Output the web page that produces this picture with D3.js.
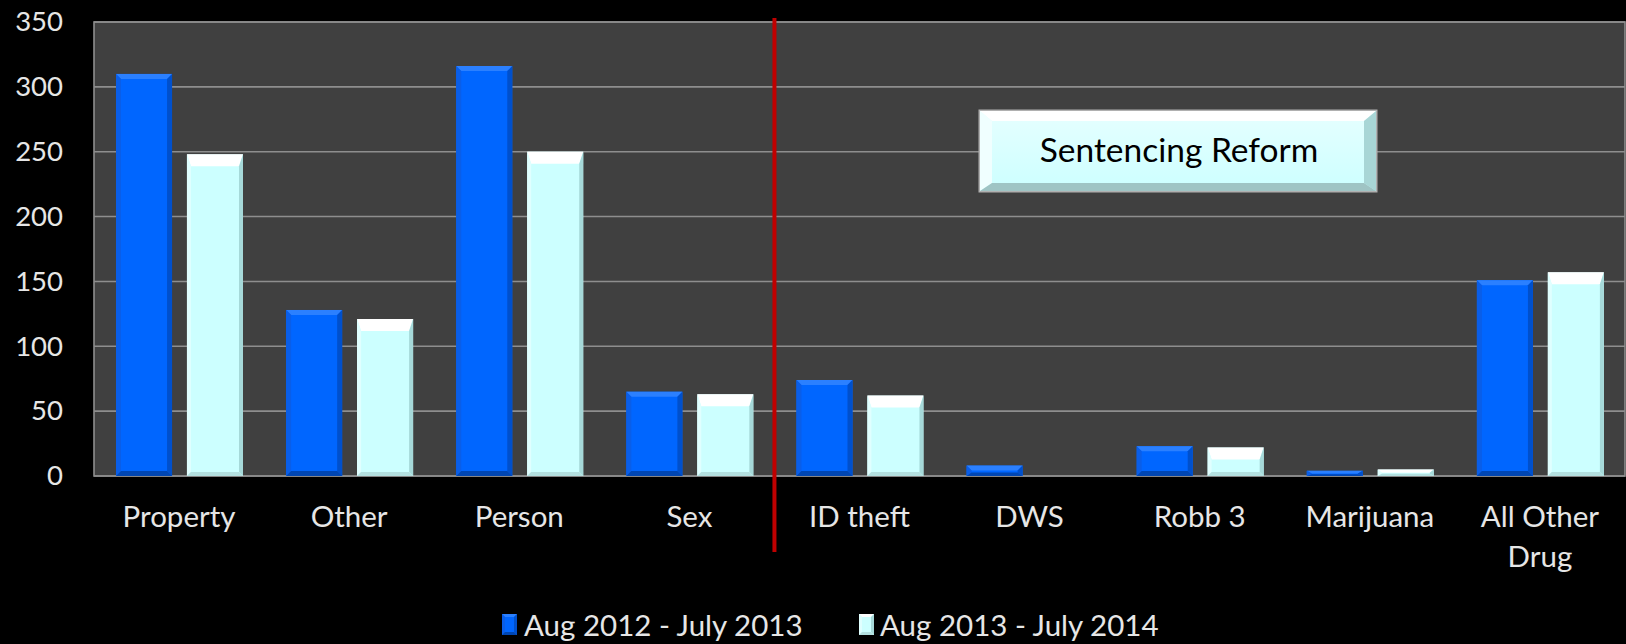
<!DOCTYPE html>
<html>
<head>
<meta charset="utf-8">
<script src="https://cdn.jsdelivr.net/npm/d3@7"></script>
<style>
  html, body { margin: 0; padding: 0; background: #000; }
  svg { display: block; }
  text { font-family: Lato, "Open Sans", sans-serif; }
</style>
</head>
<body>
<svg id="chart" width="1626" height="644"></svg>
<script>
// ---- data ----
const categories = ["Property", "Other", "Person", "Sex", "ID theft", "DWS", "Robb 3", "Marijuana", "All Other Drug"];
const seriesNames = ["Aug 2012 - July 2013", "Aug 2013 - July 2014"];
const series2013 = [310, 128, 316, 65, 74, 8, 23, 4, 151];
const series2014 = [248, 121, 250, 63, 62, 0, 22, 5, 157];
const yTicks = [0, 50, 100, 150, 200, 250, 300, 350];
const dividerBefore = "ID theft";
const annotation = "Sentencing Reform";

// ---- layout ----
const svg = d3.select("#chart");
const W = 1626, H = 644;
const m = { left: 94, right: 1, top: 22, bottom: 168 };
const plotW = W - m.left - m.right;
const plotH = H - m.top - m.bottom;

svg.append("rect").attr("width", W).attr("height", H).attr("fill", "#000");

const x = d3.scaleBand().domain(categories).range([m.left, m.left + plotW]).padding(0);
const xs = d3.scaleBand().domain([0, 1]).range([22, 149]).paddingInner(0.21);
const y = d3.scaleLinear().domain([0, 350]).range([m.top + plotH, m.top]);

// plot background
svg.append("rect")
  .attr("x", m.left).attr("y", m.top)
  .attr("width", plotW).attr("height", plotH)
  .attr("fill", "#404040");

// gridlines
svg.append("g").selectAll("line").data(yTicks).join("line")
  .attr("x1", m.left).attr("x2", m.left + plotW)
  .attr("y1", d => y(d)).attr("y2", d => y(d))
  .attr("stroke", "#8e8e8e").attr("stroke-width", 1.6);

// plot border
svg.append("rect")
  .attr("x", m.left).attr("y", m.top)
  .attr("width", plotW).attr("height", plotH)
  .attr("fill", "none").attr("stroke", "#8e8e8e").attr("stroke-width", 1.6);

// y axis labels
const yAxis = d3.axisLeft(y).tickValues(yTicks).tickSize(0).tickPadding(31);
const yg = svg.append("g").attr("transform", `translate(${m.left},0)`).call(yAxis);
yg.select(".domain").remove();
yg.selectAll("text").attr("fill", "#e6e6e6").style("font-size", "27.5px")
  .style("font-family", "Lato, sans-serif");

// bars with bevel
const styles = [
  { main: "#0066ff", top: "#2b80ff", left: "#0a5ee8", right: "#0050cc", bottom: "#0046b3", bt: 5, bs: 5, bb: 5 },
  { main: "#ccffff", top: "#ffffff", left: "#e0ffff", right: "#a6d9d9", bottom: "#b3e0e0", bt: 12, bs: 4, bb: 4 }
];

function drawBar(g, x0, y0, w, h, s) {
  if (h <= 0) return;
  const bt = Math.min(s.bt, h / 2), bs = Math.min(s.bs, w / 4), bb = Math.min(s.bb, h / 3);
  const x1 = x0 + w, y1 = y0 + h;
  g.append("rect").attr("x", x0).attr("y", y0).attr("width", w).attr("height", h).attr("fill", s.main);
  const pts = a => a.map(p => p.join(",")).join(" ");
  g.append("polygon").attr("points", pts([[x0, y0], [x1, y0], [x1 - bs, y0 + bt], [x0 + bs, y0 + bt]])).attr("fill", s.top);
  g.append("polygon").attr("points", pts([[x0, y0], [x0 + bs, y0 + bt], [x0 + bs, y1 - bb], [x0, y1]])).attr("fill", s.left);
  g.append("polygon").attr("points", pts([[x1, y0], [x1, y1], [x1 - bs, y1 - bb], [x1 - bs, y0 + bt]])).attr("fill", s.right);
  g.append("polygon").attr("points", pts([[x0, y1], [x0 + bs, y1 - bb], [x1 - bs, y1 - bb], [x1, y1]])).attr("fill", s.bottom);
}

const allSeries = [series2013, series2014];
const barsG = svg.append("g");
categories.forEach((c, i) => {
  allSeries.forEach((vals, si) => {
    const v = vals[i];
    const bx = x(c) + xs(si);
    const by = y(v);
    drawBar(barsG, bx, by, xs.bandwidth(), y(0) - by, styles[si]);
  });
});

// category labels
const labelG = svg.append("g");
categories.forEach(c => {
  const words = c === "All Other Drug" ? ["All Other", "Drug"] : [c];
  const t = labelG.append("text")
    .attr("x", x(c) + x.bandwidth() / 2)
    .attr("y", 527)
    .attr("text-anchor", "middle")
    .attr("fill", "#e6e6e6")
    .style("font-size", "29.5px");
  words.forEach((w, k) => {
    t.append("tspan").attr("x", x(c) + x.bandwidth() / 2).attr("dy", k === 0 ? 0 : 40).text(w);
  });
});

// divider line
const dx = x(dividerBefore);
svg.append("line")
  .attr("x1", dx).attr("x2", dx)
  .attr("y1", 18).attr("y2", 552)
  .attr("stroke", "#c00000").attr("stroke-width", 4);

// annotation box
const bx0 = 980, by0 = 111, bw = 396, bh = 80;
const defs = svg.append("defs");
const grad = defs.append("linearGradient").attr("id", "boxg").attr("x1", 0).attr("y1", 0).attr("x2", 0).attr("y2", 1);
grad.append("stop").attr("offset", "0%").attr("stop-color", "#e6ffff");
grad.append("stop").attr("offset", "100%").attr("stop-color", "#ccffff");
const boxS = { main: "url(#boxg)", top: "#ffffff", left: "#f0ffff", right: "#a8d6d6", bottom: "#9fc4c4", bt: 10, bs: 12, bb: 8 };
const boxG = svg.append("g");
boxG.append("rect").attr("x", bx0 - 1.5).attr("y", by0 - 1.5).attr("width", bw + 3).attr("height", bh + 3).attr("fill", "#b0b0b0");
drawBar(boxG, bx0, by0, bw, bh, boxS);
boxG.append("text")
  .attr("x", bx0 + bw / 2 + 1).attr("y", by0 + 51)
  .attr("text-anchor", "middle").attr("fill", "#000")
  .style("font-size", "33.5px").text(annotation);

// legend
const legendItems = [
  { name: seriesNames[0], s: styles[0], mx: 502, tx: 524 },
  { name: seriesNames[1], s: styles[1], mx: 859, tx: 880 }
];
const legG = svg.append("g");
legendItems.forEach(it => {
  drawBar(legG, it.mx, 614, 15, 21, Object.assign({}, it.s, { bt: 3, bs: 3, bb: 3 }));
  legG.append("text").attr("x", it.tx).attr("y", 636)
    .attr("fill", "#e6e6e6").style("font-size", "29.5px").text(it.name);
});
</script>
</body>
</html>
